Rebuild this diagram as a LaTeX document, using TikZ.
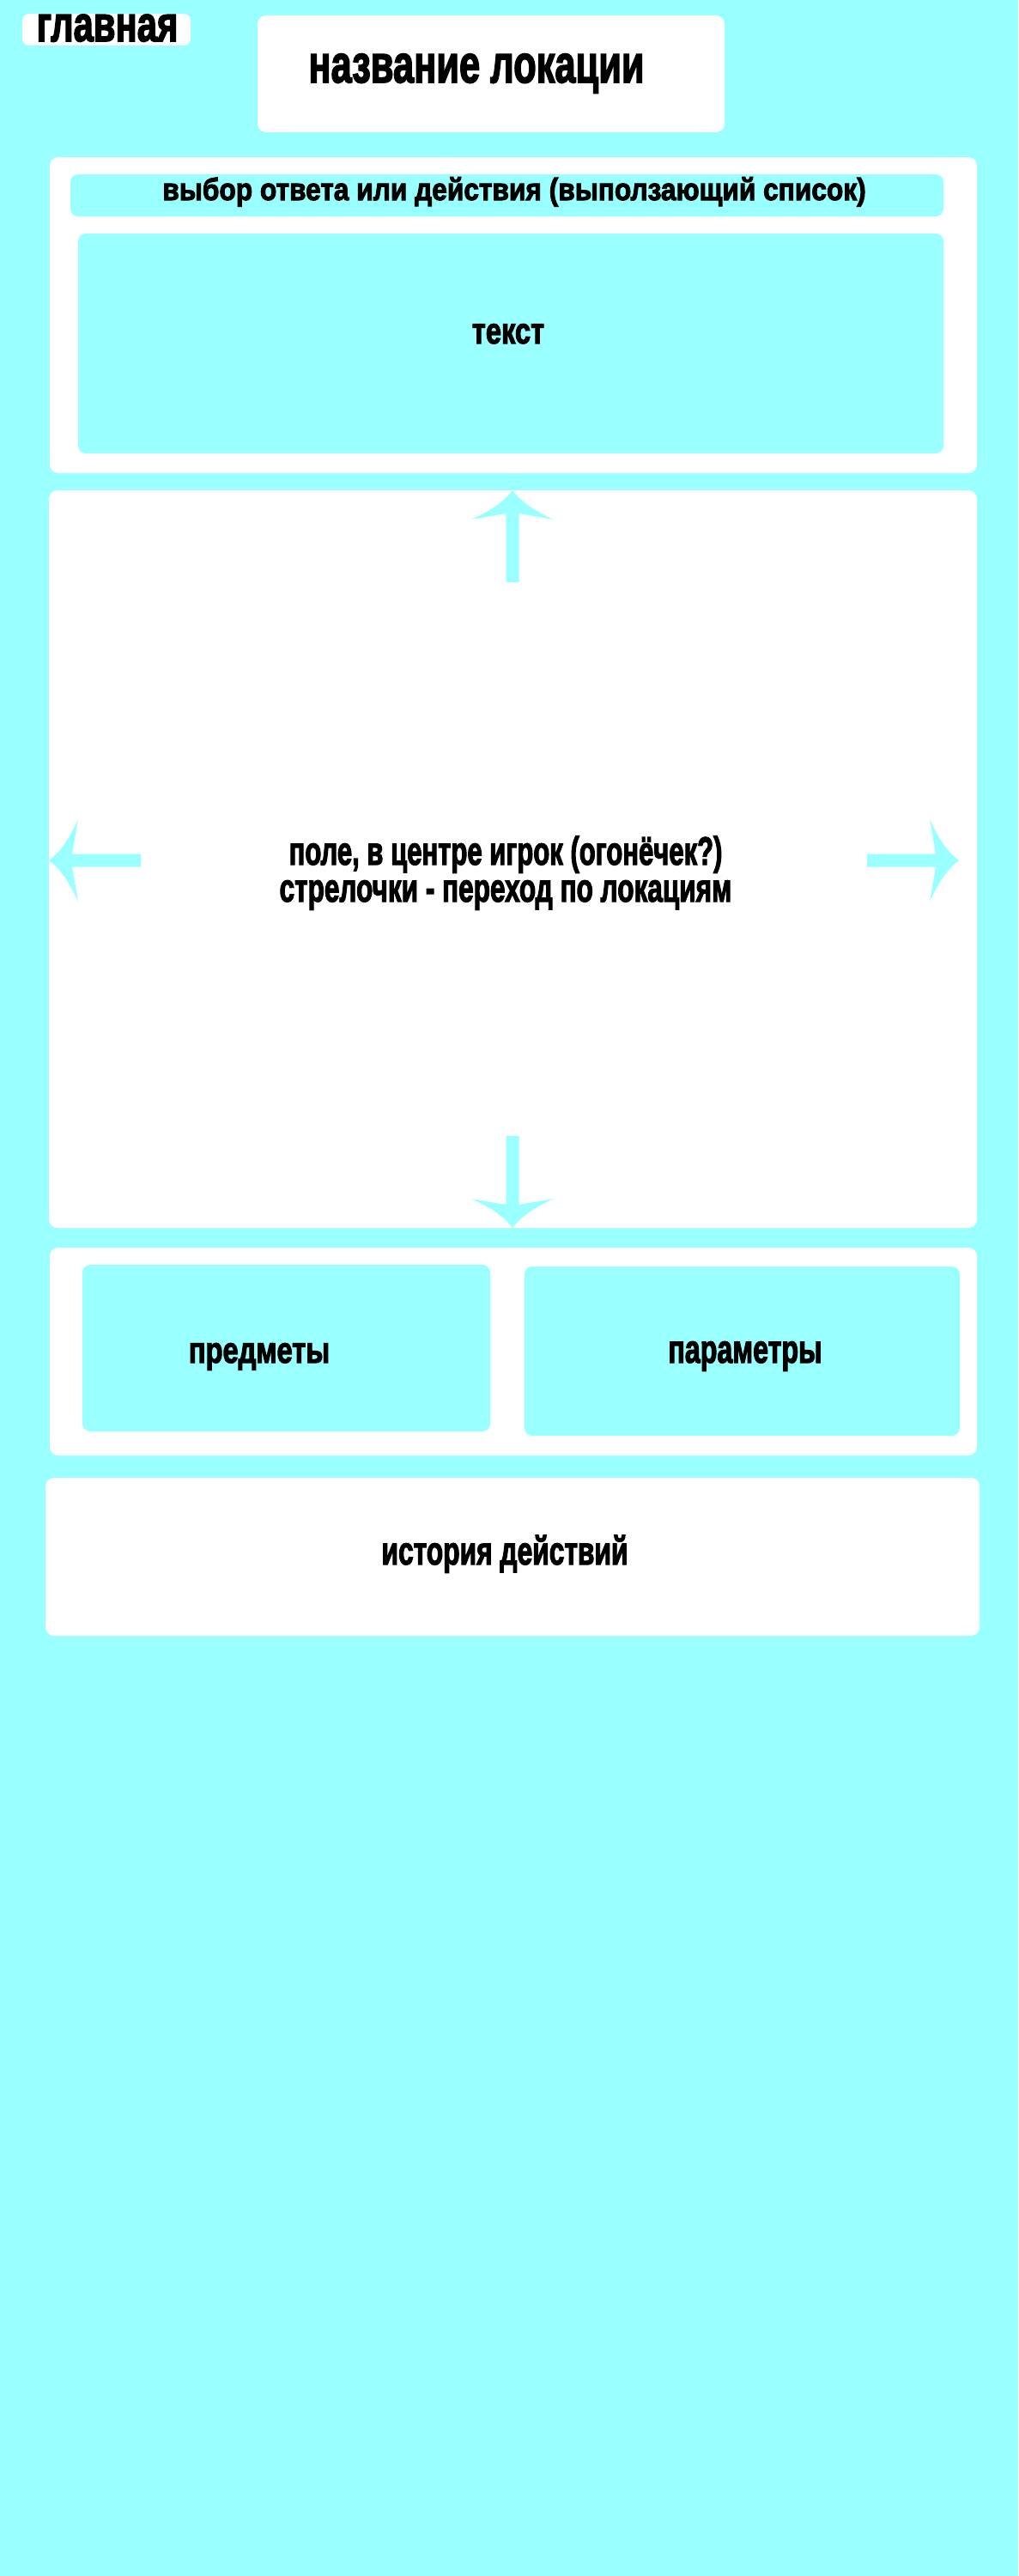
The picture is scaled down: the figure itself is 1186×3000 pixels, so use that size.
\documentclass[tikz,border=0pt]{standalone}
\usepackage{fontspec}
\newfontfamily\uifont{Liberation Sans}[BoldFeatures={FakeBold=3}]
\usetikzlibrary{positioning}
\definecolor{aqua}{HTML}{99FFFF}
\tikzset{
  panel/.style={fill=white, rounded corners=10pt, inner sep=0pt, outer sep=0pt, anchor=north west},
  slot/.style={panel, fill=aqua, rounded corners=9pt},
  size/.style 2 args={minimum width=#1pt, minimum height=#2pt},
  caption/.style={font=\uifont\bfseries\fontsize{#1}{#1}\selectfont, inner sep=0pt, anchor=base},
  caption/.default=44,
  squeeze/.style={xscale=#1, transform shape},
  navarrow/.pic={
    \fill[aqua] (0,0) .. controls (-15,11) and (-26,30) .. (-34,48) -- (-27,7.5) -- (-107,7.5)
      -- (-107,-7.5) -- (-27,-7.5) -- (-34,-48) .. controls (-26,-30) and (-15,-11) .. (0,0) -- cycle;
  }
}

\begin{document}
\begin{tikzpicture}[x=1pt, y=-1pt]
    \fill[aqua] (0,0) rectangle (1186,3000);
    \useasboundingbox (0,0) rectangle (1186,3000);

    % header
    \node[panel, size={196}{37}, rounded corners=8pt] (mainBtn) at (26,16) {};
    \node[panel, size={544}{136}] (locBox) at (300,18) {};
    \node[caption=58, squeeze=0.72] (mainText) at (125,48) {главная};
    \node[caption=62, squeeze=0.70] (locText) at (555,96) {название локации};

    % dialog
    \node[panel, size={1080}{368}] (dialogBox) at (58,183) {};
    \node[slot, size={1017}{49}] (choiceBar) at (82,203) {};
    \node[slot, size={1008}{256}] (textArea) at (91,272) {};
    \node[caption=36, squeeze=0.88] (choiceText) at (599,233) {выбор ответа или действия (выползающий список)};
    \node[caption=42.4, squeeze=0.77] (textText) at (592,400) {текст};

    % field
    \node[panel, size={1081}{859}] (fieldBox) at (57,571) {};
    \node[caption=46, squeeze=0.675] (fieldLineA) at (589,1007) {поле, в центре игрок (огонёчек?)};
    \node[caption=46, squeeze=0.686] (fieldLineB) at (589,1050) {стрелочки - переход по локациям};
    \coordinate (upTip) at (597,571);
    \coordinate (downTip) at (597,1430);
    \coordinate (leftTip) at (57,1002);
    \coordinate (rightTip) at (1117,1002);
    \pic[rotate=90] at (upTip) {navarrow};
    \pic[rotate=-90] at (downTip) {navarrow};
    \pic[rotate=180] at (leftTip) {navarrow};
    \pic at (rightTip) {navarrow};

    % inventory
    \node[panel, size={1080}{242}] (invBox) at (58,1453) {};
    \node[slot, size={475}{194}] (itemsBox) at (96,1473) {};
    \node[slot, size={507}{197}] (paramsBox) at (611,1475) {};
    \node[caption=42.4, squeeze=0.77] (itemsText) at (302,1587) {предметы};
    \node[caption=46, squeeze=0.70] (paramsText) at (868,1587) {параметры};

    % history
    \node[panel, size={1088}{184}] (historyBox) at (53,1721) {};
    \node[caption=46, squeeze=0.69] (historyText) at (588,1822) {история действий};
\end{tikzpicture}
\end{document}
